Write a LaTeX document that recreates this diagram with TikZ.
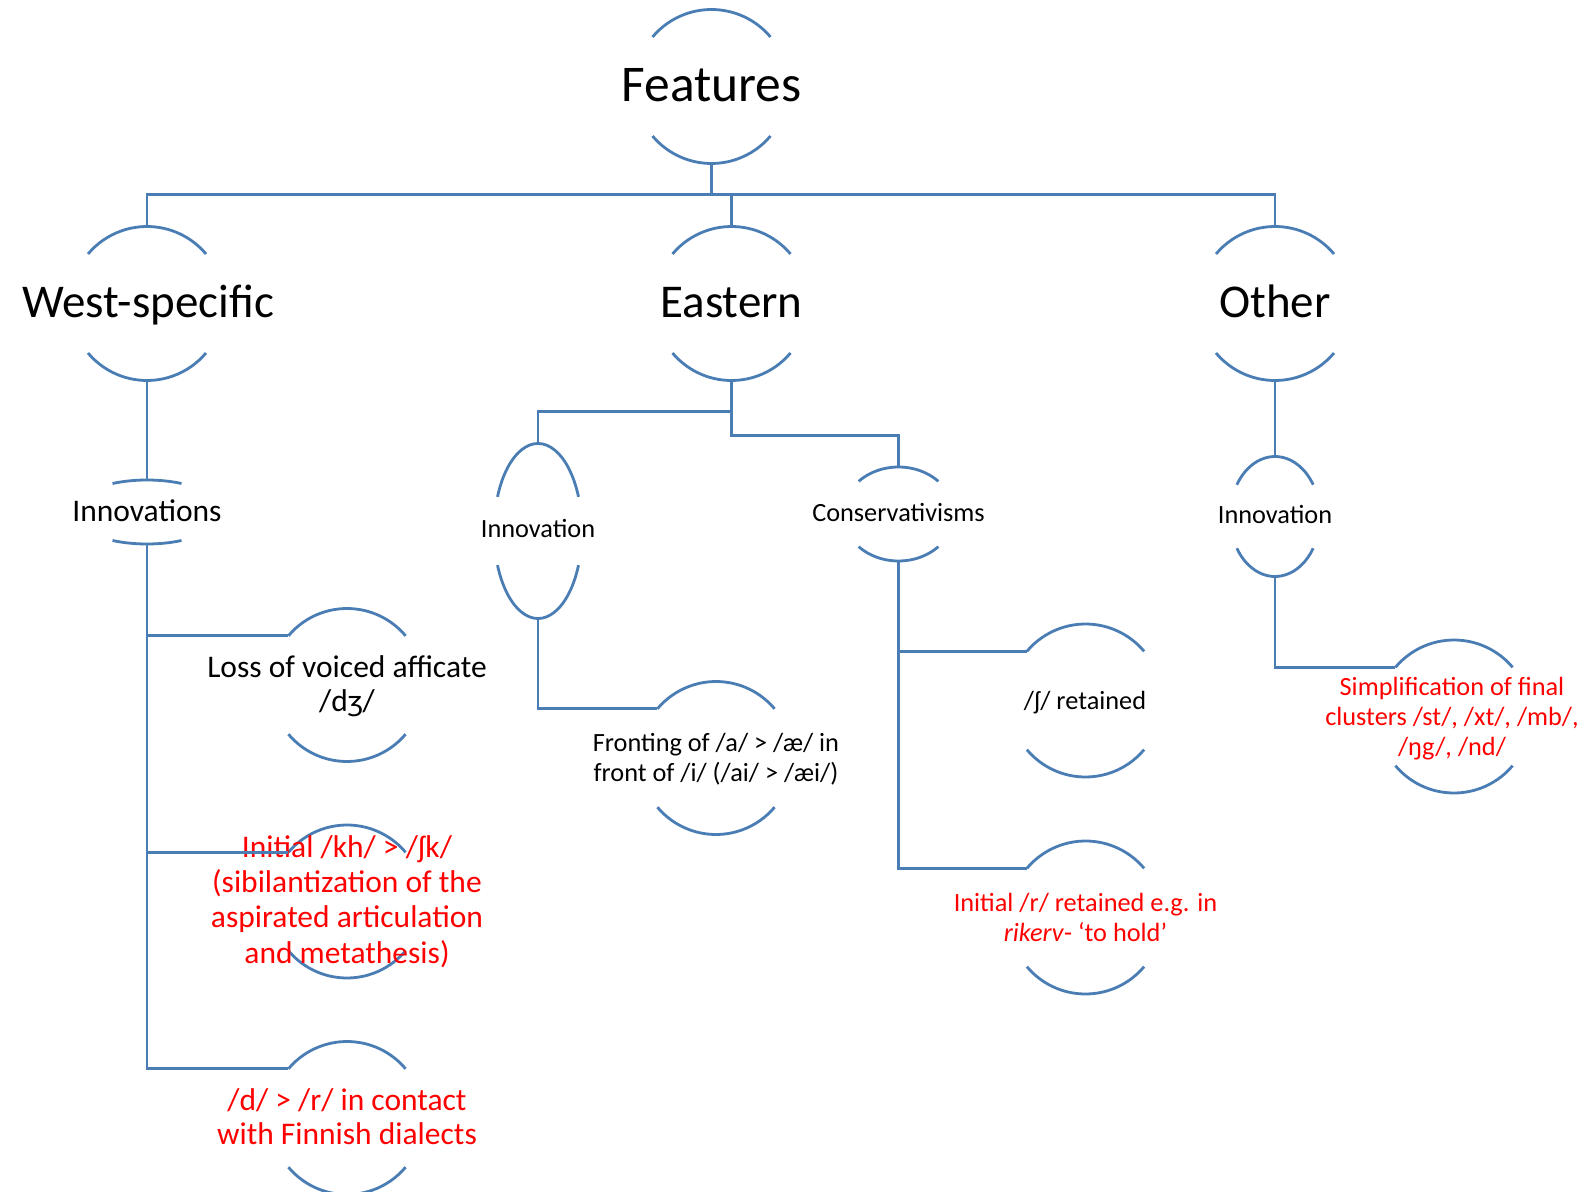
\documentclass[tikz,border=0pt]{standalone}
\usepackage{fontspec}
\setmainfont{Carlito}
\usetikzlibrary{shapes.geometric}
\definecolor{linkblue}{HTML}{4A7DB4}
\definecolor{notered}{HTML}{FF0000}
\begin{document}
\begin{tikzpicture}[x=0.5pt,y=-0.5pt]
\tikzset{
    link/.style={line width=1.4pt, color=linkblue},
    hub/.style 2 args={ellipse, inner sep=0pt, outer sep=0pt, minimum width=#1pt, minimum height=#2pt},
    headtext/.style={font=\fontsize{25.75}{30}\selectfont, anchor=base},
    grouptext/.style={font=\fontsize{23.5}{28}\selectfont, anchor=base},
    bigleaf/.style={font=\fontsize{15.75}{17.2}\selectfont, align=center, anchor=base},
    smallleaf/.style={font=\fontsize{13.15}{14.9}\selectfont, align=center, anchor=base},
    flagged/.style={text=notered}}
\def\rleaf{76.5}

\useasboundingbox (0,0) rectangle (1584,1192);

% circles (only the caps are drawn)
\node[hub={77}{77}] (feat) at (711.5,86.5) {};
\node[hub={77}{77}] (west) at (147,303.5) {};
\node[hub={77}{77}] (east) at (731.5,303.5) {};
\node[hub={77}{77}] (other) at (1275,303.5) {};
\node[hub={76}{32}] (westinn) at (147,512) {};
\node[hub={44}{87.5}] (eastinn) at (538,531) {};
\node[hub={55.4}{47}] (cons) at (898.5,514) {};
\node[hub={45}{60}] (othinn) at (1275,516.5) {};
\node[hub={\rleaf}{\rleaf}] (loss) at (347,685) {};
\node[hub={\rleaf}{\rleaf}] (sibil) at (347,901.5) {};
\node[hub={\rleaf}{\rleaf}] (finn) at (347,1118) {};
\node[hub={\rleaf}{\rleaf}] (front) at (716,758) {};
\node[hub={\rleaf}{\rleaf}] (shret) at (1085.5,700.5) {};
\node[hub={\rleaf}{\rleaf}] (rret) at (1085.5,917.5) {};
\node[hub={\rleaf}{\rleaf}] (simp) at (1454,716.5) {};

\foreach \n/\rx/\ry/\t in {feat/77/77/40, west/77/77/40, east/77/77/40, other/77/77/40,
    westinn/76/32/63, eastinn/44/87.5/23, cons/55.4/47/44, othinn/45/60/32,
    loss/\rleaf/\rleaf/40, sibil/\rleaf/\rleaf/40, finn/\rleaf/\rleaf/40, front/\rleaf/\rleaf/40,
    shret/\rleaf/\rleaf/40, rret/\rleaf/\rleaf/40, simp/\rleaf/\rleaf/40}
    \draw[link] (\n.center) ++(\t:{\rx} and {\ry}) arc[start angle=\t, end angle=180-\t, x radius=\rx, y radius=\ry]
        (\n.center) ++(180+\t:{\rx} and {\ry}) arc[start angle=180+\t, end angle=360-\t, x radius=\rx, y radius=\ry];

% texts (base = baseline of the last line)
\node[headtext] (featT) at (711.5,101.7) {Features};
\node[grouptext] (westT) at (148,317.3) {West-specific};
\node[grouptext] (eastT) at (731.5,317.3) {Eastern};
\node[grouptext] (otherT) at (1275,317.3) {Other};
\node[bigleaf] (westinnT) at (147,521.7) {Innovations};
\node[smallleaf] (eastinnT) at (538,537.3) {Innovation};
\node[smallleaf] (consT) at (898.5,521) {Conservativisms};
\node[smallleaf] (othinnT) at (1275,523.3) {Innovation};
\node[bigleaf] (lossT) at (347,711.7) {Loss of voiced afficate\\/dʒ/};
\node[bigleaf, flagged, font=\fontsize{15.75}{17.6}\selectfont] (sibilT) at (347,963) {Initial /kh/ > /ʃk/\\(sibilantization of the\\aspirated articulation\\and metathesis)};
\node[bigleaf, flagged] (finnT) at (347,1144.5) {/d/ > /r/ in contact\\with Finnish dialects};
\node[smallleaf] (frontT) at (716,781.5) {Fronting of /a/ > /æ/ in\\front of /i/ (/ai/ > /æi/)};
\node[smallleaf] (shretT) at (1085,709.3) {/ʃ/ retained};
\node[smallleaf, flagged] (rretT) at (1085.5,941.7) {Initial /r/ retained e.g. in\\\textit{rikerv}- ‘to hold’};
\node[smallleaf, flagged] (simpT) at (1452,755) {Simplification of final\\clusters /st/, /xt/, /mb/,\\/ŋg/, /nd/};

% connectors
\coordinate (bar) at (711.5,194.5);
\draw[link] (feat.south) -- (bar) -| (west.north);
\draw[link] (bar) -| (east.north);
\draw[link] (bar) -| (other.north);
\draw[link] (west.south) -- (westinn.north);
\draw[link] (westinn.south) |- (loss.140);
\draw[link] (westinn.south) |- (sibil.140);
\draw[link] (westinn.south) |- (finn.140);
\coordinate (forkA) at (731.5,411.5);
\coordinate (forkB) at (731.5,435.5);
\draw[link] (east.south) -- (forkA) -| (eastinn.north);
\draw[link] (forkA) -- (forkB) -| (cons.north);
\draw[link] (eastinn.south) |- (front.140);
\draw[link] (cons.south) |- (shret.140);
\draw[link] (cons.south) |- (rret.140);
\draw[link] (other.south) -- (othinn.north);
\draw[link] (othinn.south) |- (simp.140);

\end{tikzpicture}
\end{document}
